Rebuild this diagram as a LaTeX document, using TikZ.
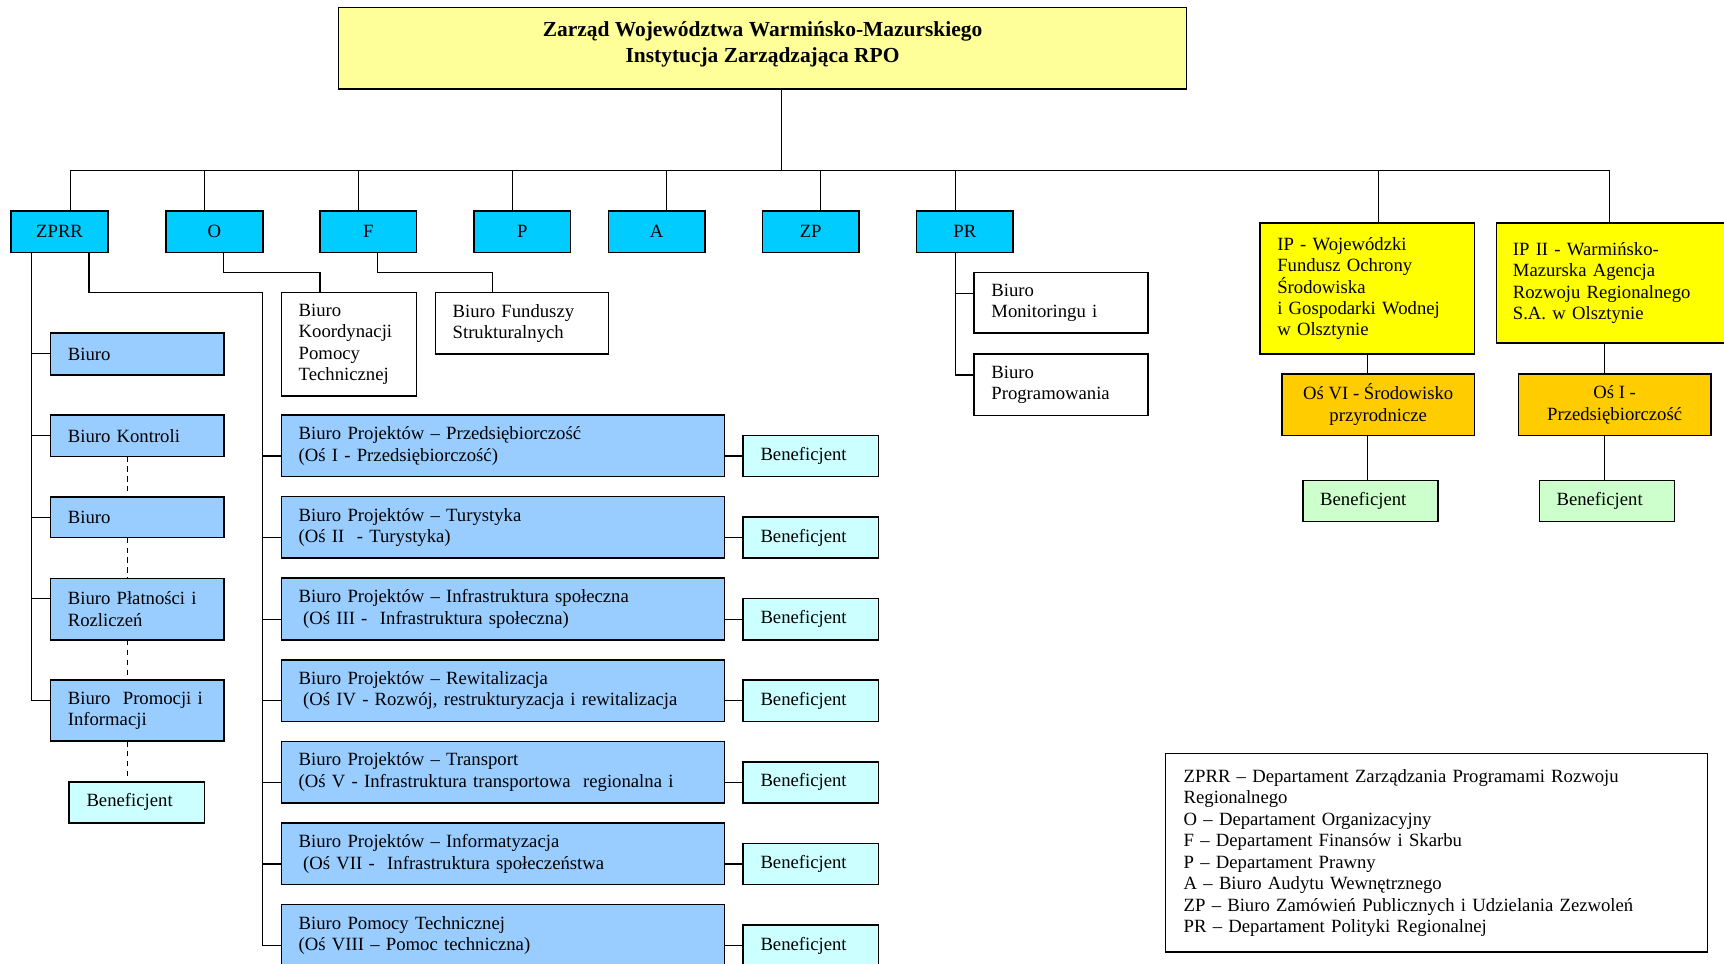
\documentclass[tikz,border=0pt]{standalone}
\usepackage{fontspec}
\setmainfont{Liberation Serif}
\definecolor{titleyellow}{HTML}{FFFF99}
\definecolor{abbrblue}{HTML}{00CCFF}
\definecolor{projblue}{HTML}{99CCFF}
\definecolor{bencyan}{HTML}{CCFFFF}
\definecolor{benmint}{HTML}{CCFFCC}
\definecolor{ipyellow}{HTML}{FFFF00}
\definecolor{osorange}{HTML}{FFCC00}
\begin{document}
\begin{tikzpicture}[x=1pt,y=-1pt,
  every node/.style={font=\fontsize{17}{19.5}\selectfont},
  orgbox/.style={draw,line width=1.4pt,outer sep=0pt,inner ysep=0pt},
  cellbox/.style={orgbox,anchor=north west,inner xsep=15.7pt,align=left},
  abbr/.style={orgbox,fill=abbrblue,minimum width=88pt,minimum height=37.5pt},
  osbox/.style={orgbox,fill=osorange,anchor=north west,minimum width=175pt,minimum height=56pt,align=center},
  ben/.style={cellbox,text width=91.6pt,minimum height=37.5pt},
  wire/.style={line width=1.1pt}]
\path[use as bounding box,fill=white] (0,0) rectangle (1568,876);
\node[orgbox,fill=titleyellow,minimum width=771pt,minimum height=74pt,align=center,text depth=12pt,font=\bfseries\fontsize{19.5}{23.5}\selectfont] (zarzad) at (693.5,44) {Zarząd Województwa Warmińsko-Mazurskiego\\Instytucja Zarządzająca RPO};
\coordinate (trunk) at (711,155);
\foreach \nm/\lab/\cx/\dx in {zprr/ZPRR/54.2/64,o/O/195/186,f/F/335/326,p/P/475/466,a/A/597.3/606,zp/ZP/737.3/746,pr/PR/877.5/869}{
  \node[abbr] (\nm) at (\cx,210.75) {\lab};
  \coordinate (bus-\nm) at (\dx,155);
  \draw[wire] (bus-\nm) -- (bus-\nm |- \nm.north);
}
\node[cellbox,fill=ipyellow,text width=163.6pt,minimum height=119pt] (ip) at (1146,203) {IP - Wojewódzki\\Fundusz Ochrony\\Środowiska\\i Gospodarki Wodnej\\w Olsztynie};
\node[cellbox,fill=ipyellow,text width=182.6pt,minimum height=109pt,inner xsep=15pt] (ip2) at (1361,203) {IP II - Warmińsko-\\Mazurska Agencja\\Rozwoju Regionalnego\\S.A. w Olsztynie};
\coordinate (bus-ip) at (1254,155);
\coordinate (bus-ip2) at (1464,155);
\draw[wire] (zarzad.south -| trunk) -- (trunk);
\draw[wire] (bus-zprr) -- (bus-ip2);
\draw[wire] (bus-ip) -- (bus-ip |- ip.north);
\draw[wire] (bus-ip2) -- (bus-ip2 |- ip2.north);
\node[osbox] (os6) at (1166,340) {Oś VI - Środowisko\\przyrodnicze};
\node[osbox] (os1) at (1381,340) {Oś I -\\Przedsiębiorczość};
\node[ben,fill=benmint] (ben6) at (1185,437) {Beneficjent};
\node[ben,fill=benmint] (ben1) at (1400,437) {Beneficjent};
\coordinate (c6) at (1244,0);
\coordinate (c1) at (1459,0);
\draw[wire] (ip.south -| c6) -- (os6.north -| c6) (os6.south -| c6) -- (ben6.north -| c6);
\draw[wire] (ip2.south -| c1) -- (os1.north -| c1) (os1.south -| c1) -- (ben1.north -| c1);
\node[cellbox,text width=126.6pt,minimum height=55pt] (monit) at (886,248) {Biuro\\Monitoringu i};
\node[cellbox,text width=126.6pt,minimum height=56pt] (prog) at (886,322) {Biuro\\Programowania};
\coordinate (pr-l) at ([xshift=-8.6pt]pr.south);
\draw[wire] (pr-l) |- ([yshift=-19pt]monit.north west);
\draw[wire] (pr-l) |- ([yshift=-19pt]prog.north west);
\node[cellbox,text width=91.6pt,minimum height=94pt] (koord) at (256,266) {Biuro\\Koordynacji\\Pomocy\\Technicznej};
\node[cellbox,text width=126pt,minimum height=56pt] (fund) at (396,266) {Biuro Funduszy\\Strukturalnych};
\draw[wire] ([xshift=8pt]o.south) -- ++(0,18.5) -| ([xshift=-26.5pt]koord.north);
\draw[wire] ([xshift=8pt]f.south) -- ++(0,18.5) -| ([xshift=-26.75pt]fund.north);
\foreach \nm/\ytop/\hh/\lab in {biuroa/303/38pt/Biuro,kontrola/377.5/37.5pt/Biuro Kontroli,biurob/452/37pt/Biuro,platnosci/526/56pt/{Biuro Płatności i\\Rozliczeń},promocja/618.5/55.5pt/{Biuro~ Promocji i\\Informacji}}
  \node[cellbox,fill=projblue,text width=126.2pt,minimum height=\hh] (\nm) at (46,\ytop) {\lab};
\node[ben,fill=bencyan] (benz) at (63,711) {Beneficjent};
\coordinate (zl) at ([xshift=-25.5pt]zprr.south);
\foreach \nm in {biuroa,kontrola,biurob,platnosci,promocja}
  \draw[wire] (zl) |- ([yshift=-18.5pt]\nm.north west);
\coordinate (dl) at (116,0);
\foreach \ua/\ub in {kontrola/biurob,biurob/platnosci,platnosci/promocja,promocja/benz}
  \draw[wire,dash pattern=on 5pt off 4pt] (\ua.south -| dl) -- (\ub.north -| dl);
\coordinate (zr) at (238.6,266);
\draw[wire] ([xshift=26.8pt]zprr.south) |- (zr);
\foreach \i/\lab [evaluate=\i as \ytop using 377.5+74.2*(\i-1)] in {
  1/{Biuro Projektów – Przedsiębiorczość\\(Oś I - Przedsiębiorczość)},
  2/{Biuro Projektów – Turystyka\\(Oś II~ - Turystyka)},
  3/{Biuro Projektów – Infrastruktura społeczna\\\hspace*{4pt}(Oś III -~ Infrastruktura społeczna)},
  4/{Biuro Projektów – Rewitalizacja\\\hspace*{4pt}(Oś IV - Rozwój, restrukturyzacja i rewitalizacja},
  5/{Biuro Projektów – Transport\\(Oś V - Infrastruktura transportowa~ regionalna i},
  6/{Biuro Projektów – Informatyzacja\\\hspace*{4pt}(Oś VII -~ Infrastruktura społeczeństwa},
  7/{Biuro Pomocy Technicznej\\(Oś VIII – Pomoc techniczna)}}{
  \node[cellbox,fill=projblue,text width=371.6pt,minimum height=56pt] (bp\i) at (256,\ytop) {\lab};
  \node[ben,fill=bencyan] (ben\i) at (676,\ytop+18.5) {Beneficjent};
  \draw[wire] (zr) |- (bp\i.west |- ben\i.west);
  \draw[wire] (bp\i.east |- ben\i.west) -- (ben\i.west);
}
\node[cellbox,text width=459.6pt,minimum height=180.5pt,inner xsep=16.6pt] (legenda) at (1060,685.5) {ZPRR – Departament Zarządzania Programami Rozwoju\\Regionalnego\\O – Departament Organizacyjny\\F – Departament Finansów i Skarbu\\P – Departament Prawny\\A – Biuro Audytu Wewnętrznego\\ZP – Biuro Zamówień Publicznych i Udzielania Zezwoleń\\PR – Departament Polityki Regionalnej};
\end{tikzpicture}
\end{document}
